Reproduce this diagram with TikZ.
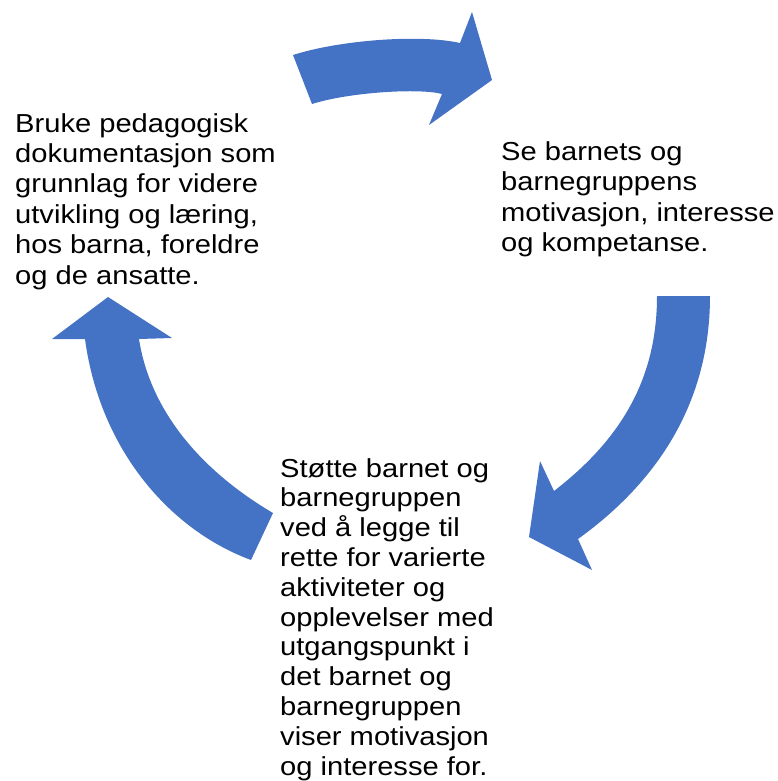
\documentclass[tikz,border=0pt]{standalone}
\usepackage{fontspec}
\setmainfont{Liberation Sans}[FakeStretch=1.12]
\definecolor{arrowblue}{HTML}{4472C4}
\begin{document}
\begin{tikzpicture}[x=1pt,y=-1pt,
  cyclearrow/.style={fill=arrowblue,draw=none},
  steptext/.style={anchor=base west,align=left,inner sep=0pt,text=black}]
\useasboundingbox (0,0) rectangle (777,781);
% top arrow
\path[cyclearrow] (293,55) .. controls (340,40) and (420,34) .. (460,43) -- (472,12) -- (492,80) -- (429,125) -- (442,94) .. controls (420,88) and (350,92) .. (312,104) -- cycle;
% right arrow
\path[cyclearrow] (657,296) -- (710,296) .. controls (710,400) and (660,480) .. (578,539) -- (592,570) -- (529,537) -- (540,461) -- (554,491) .. controls (620,440) and (657,380) .. (657,296) -- cycle;
% left arrow
\path[cyclearrow] (251,560) -- (273,513) .. controls (200,470) and (150,410) .. (139,339) -- (172,338) -- (108,297) -- (52,339) -- (85,339) .. controls (100,450) and (170,530) .. (251,560) -- cycle;
% texts (anchored at the baseline of the last line)
\node[steptext,font=\fontsize{26}{30.5}\selectfont] (t1) at (501,251.5) {Se barnets og\\barnegruppens\\motivasjon, interesse\\og kompetanse.};
\node[steptext,font=\fontsize{26}{29.8}\selectfont] (t2) at (280,775) {Støtte barnet og\\barnegruppen\\ved å legge til\\rette for varierte\\aktiviteter og\\opplevelser med\\utgangspunkt i\\det barnet og\\barnegruppen\\viser motivasjon\\og interesse for.};
\node[steptext,font=\fontsize{26}{30.4}\selectfont] (t3) at (15,284) {Bruke pedagogisk\\dokumentasjon som\\grunnlag for videre\\utvikling og læring,\\hos barna, foreldre\\og de ansatte.};
\end{tikzpicture}
\end{document}
